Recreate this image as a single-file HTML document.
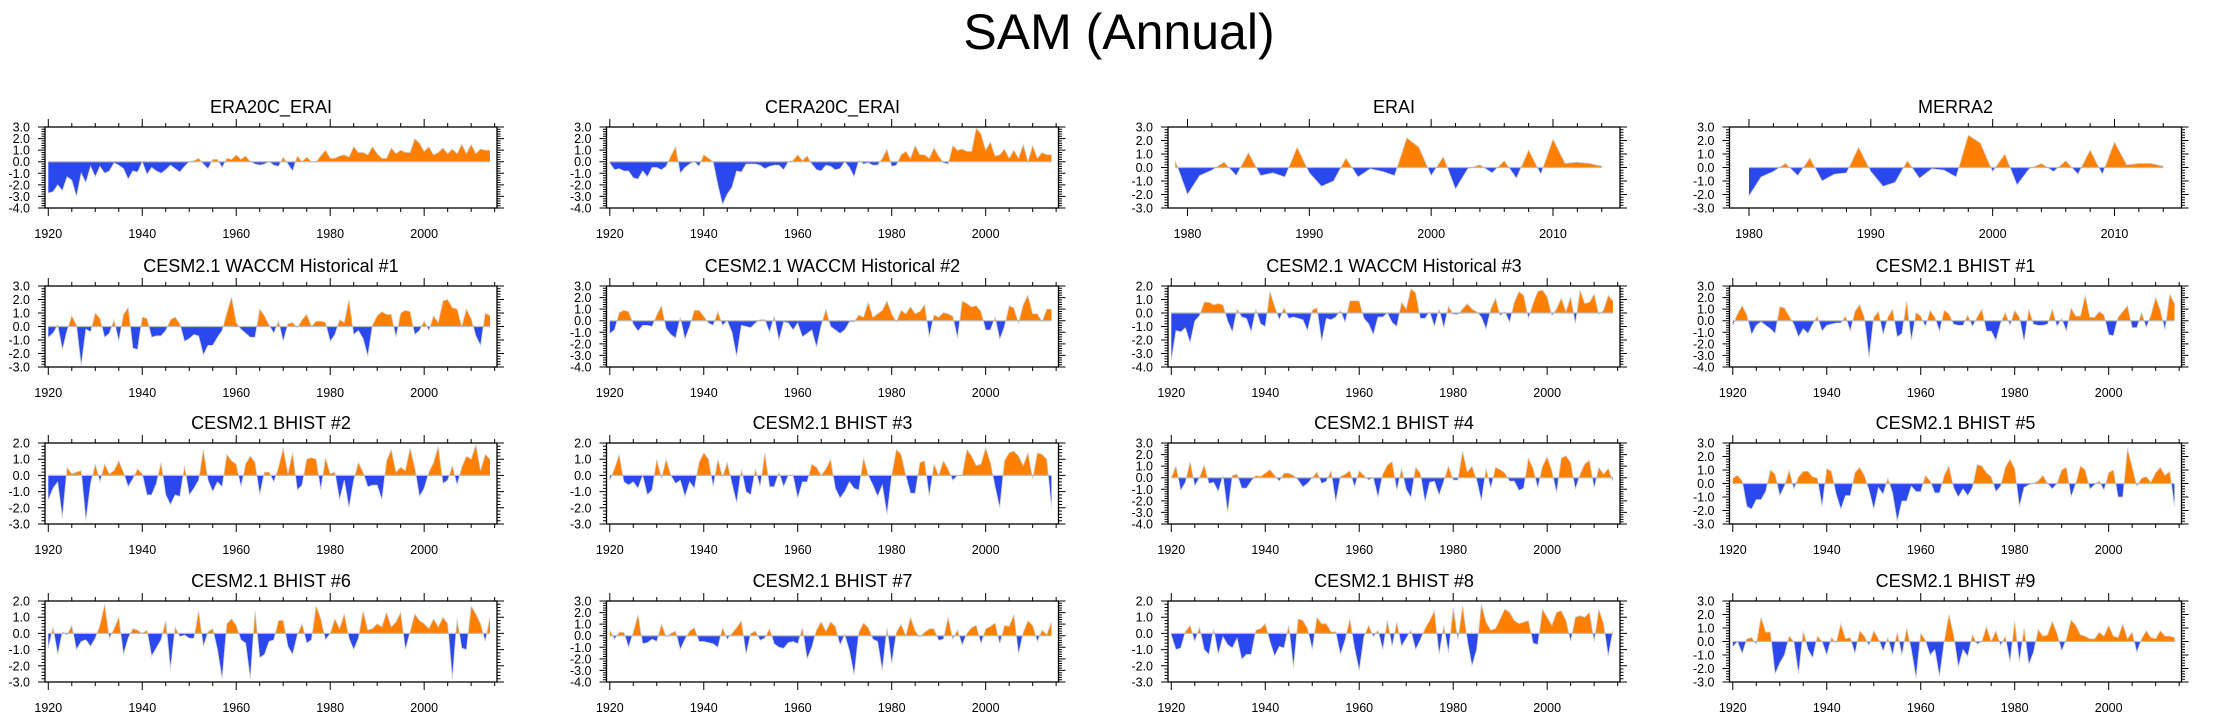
<!DOCTYPE html>
<html><head><meta charset="utf-8"><style>
html,body{margin:0;padding:0;background:#fff;}
svg{display:block;font-family:"Liberation Sans",sans-serif;}
</style></head><body>
<svg id="chart" width="2238" height="719" viewBox="0 0 2238 719" xmlns="http://www.w3.org/2000/svg">
<text x="1119" y="49" text-anchor="middle" font-size="50" fill="#000">SAM (Annual)</text>
</svg>
<script>
const yearsFull = []; for (let y = 1920; y <= 2014; y++) yearsFull.push(y);
const yearsERAI = []; for (let y = 1979; y <= 2014; y++) yearsERAI.push(y);
const yearsMERRA = []; for (let y = 1980; y <= 2014; y++) yearsMERRA.push(y);
const panelTitles = ["ERA20C_ERAI","CERA20C_ERAI","ERAI","MERRA2",
 "CESM2.1 WACCM Historical #1","CESM2.1 WACCM Historical #2","CESM2.1 WACCM Historical #3","CESM2.1 BHIST #1",
 "CESM2.1 BHIST #2","CESM2.1 BHIST #3","CESM2.1 BHIST #4","CESM2.1 BHIST #5",
 "CESM2.1 BHIST #6","CESM2.1 BHIST #7","CESM2.1 BHIST #8","CESM2.1 BHIST #9"];
const yMins = [-4,-4,-3,-3, -3,-4,-4,-4, -3,-3,-4,-3, -3,-4,-3,-3];
const yMaxs = [3,3,3,3, 3,3,2,3, 2,2,3,3, 2,3,2,3];
const xTickLabelsFull = [1920,1940,1960,1980,2000];
const xTickLabelsShort = [1980,1990,2000,2010];
const sERA20C = [-2.7,-2.6,-2.0,-2.5,-1.3,-1.6,-3.0,-1.0,-1.8,-0.4,
-1.3,-0.4,-1.0,-0.8,-0.1,-0.3,-0.6,-1.5,-0.8,-0.9,
0.0,-1.1,-0.5,-0.8,-1.0,-0.7,-0.3,-0.6,-0.9,-0.4,
0.0,0.1,0.3,-0.2,-0.6,0.2,0.2,-0.5,0.3,0.2,
0.6,0.2,0.5,0.0,-0.2,-0.3,-0.2,0.0,-0.3,-0.4,
0.4,-0.2,-0.8,0.5,0.0,0.4,0.0,0.0,0.5,1.0,
0.3,0.3,0.5,0.6,0.4,1.3,0.8,0.8,0.6,1.3,
0.7,0.3,0.3,1.2,0.7,1.0,0.8,0.8,2.0,1.6,
0.9,1.3,0.6,0.8,1.2,0.7,1.1,0.7,1.5,0.7,
1.5,0.7,1.1,1.0,1.0];
const sCERA20C = [-0.1,-0.7,-0.6,-0.8,-0.8,-1.4,-1.5,-0.8,-1.3,-0.5,
-0.5,-0.7,-0.4,0.5,1.3,-1.0,-0.5,-0.2,0.0,-0.4,
0.6,0.3,0.0,-2.0,-3.7,-2.8,-2.2,-0.8,-0.9,-0.2,
-0.2,-0.2,-0.3,-0.6,-0.4,-0.3,-0.3,-0.7,0.0,0.1,
0.6,0.1,0.5,-0.2,-0.7,-0.8,-0.3,-0.4,-0.7,-0.6,
0.0,-0.5,-1.3,0.1,-0.2,-0.1,-0.3,-0.3,0.3,1.1,
-0.4,-0.3,0.6,0.9,0.3,1.4,0.6,0.6,0.3,1.2,
0.5,-0.1,-0.2,1.4,1.0,1.1,0.9,0.9,2.9,2.4,
1.0,1.7,0.5,0.6,1.1,0.3,1.0,0.3,1.5,0.0,
1.4,0.3,0.8,0.6,0.6];
const sERAI = [0.5,-2.0,-0.6,-0.2,0.4,-0.6,1.1,-0.6,-0.4,-0.7,1.5,-0.4,-1.4,-1.0,0.7,-0.7,-0.1,-0.3,-0.6,2.2,1.5,-0.6,0.8,-1.6,-0.1,0.2,-0.4,0.5,-0.8,1.3,-0.5,2.1,0.3,0.4,0.3,0.1];
const sMERRA2 = [-2.1,-0.7,-0.3,0.3,-0.6,0.7,-1.0,-0.5,-0.4,1.5,-0.3,-1.4,-1.1,0.5,-0.8,-0.1,-0.2,-0.7,2.4,1.8,-0.3,1.0,-1.3,-0.1,0.3,-0.3,0.5,-0.5,1.3,-0.5,1.9,0.2,0.3,0.3,0.1];
const sWACCM1 = [-0.8,-0.5,0.1,-1.7,-0.3,0.8,0.1,-2.9,-0.2,-0.4,
1.0,0.6,-0.8,-0.5,0.5,-1.1,0.9,1.4,-1.6,-1.7,
0.7,0.6,-0.8,-0.7,-0.7,-0.3,0.5,0.7,0.2,-1.1,
-0.9,-0.6,-0.7,-2.1,-1.4,-1.4,-0.8,-0.3,1.0,2.2,
0.3,-0.2,-0.5,-0.8,-0.8,1.3,0.8,0.1,-0.5,0.4,
-1.1,0.2,0.3,-0.1,0.5,0.9,0.0,0.4,0.4,0.3,
-1.1,-0.6,0.5,0.3,2.0,-0.6,-0.3,-0.9,-2.2,0.1,
0.8,1.1,0.9,0.9,-0.8,1.0,1.2,1.1,-0.6,-0.3,
0.4,-0.3,0.8,0.3,1.9,2.0,1.4,1.3,0.0,1.3,
0.6,-0.7,-1.4,1.0,0.8];
const sWACCM2 = [-1.1,-0.8,0.7,0.9,0.8,-0.3,-0.9,-0.4,-0.4,-0.5,
0.5,1.3,-0.7,-1.2,-1.5,0.3,-1.6,-0.5,0.9,0.9,
0.4,-0.2,-0.4,0.8,-0.4,0.0,-1.0,-3.1,-0.4,-0.5,
-0.6,-0.2,0.1,0.1,-1.0,0.4,-1.7,-0.1,-0.2,-0.8,
-0.2,-1.4,-1.1,-0.8,-2.3,-0.4,1.0,-0.5,-0.8,-1.1,
-0.8,-0.1,-0.1,0.5,0.3,1.6,0.3,0.6,0.9,1.7,
0.6,-0.1,0.9,0.6,1.2,0.6,0.8,1.4,-1.4,0.5,
0.3,0.7,0.6,0.4,-1.5,1.7,1.5,1.2,1.3,0.8,
-0.8,-0.8,0.3,-1.6,-0.5,1.3,1.1,-0.2,1.4,2.2,
0.6,0.6,-0.1,1.0,1.0];
const sWACCM3 = [-3.5,-1.3,-1.4,-1.1,-2.2,-0.6,-0.2,0.8,0.8,0.6,
0.7,0.6,-0.6,-1.4,0.3,-0.3,-0.4,-1.4,0.3,-0.8,
-1.0,1.6,0.5,-0.5,0.4,-0.4,-0.3,-0.4,-0.5,-1.3,
0.2,0.4,-2.1,-0.4,-0.5,-0.3,0.2,-0.7,0.9,0.9,
0.9,-0.4,-0.8,-1.6,-0.3,-0.3,0.0,-0.7,-1.0,0.8,
0.3,1.8,1.5,-0.4,-0.4,0.1,-1.0,0.3,-1.1,0.5,
-0.1,-0.1,0.3,0.7,0.3,0.1,-0.3,-1.2,0.3,1.1,
-0.2,0.1,-0.7,0.8,1.6,1.3,-0.4,0.7,1.6,1.7,
1.2,-0.2,0.3,1.1,0.1,1.2,-0.8,1.7,0.7,0.8,
1.4,-0.1,0.2,1.3,0.9];
const sBHIST1 = [-0.4,0.6,1.3,0.5,-1.2,-0.4,-0.1,-0.4,-0.7,-1.1,
1.2,1.1,0.4,-0.3,-1.4,-0.7,-1.1,-0.3,0.4,-0.9,
-0.4,-0.3,-0.2,-0.2,0.4,-0.9,0.8,1.4,0.3,-3.2,
0.3,0.8,-1.2,0.3,1.0,-1.4,-1.1,1.7,-1.7,0.7,
0.4,-0.5,0.9,0.3,-0.9,0.9,0.6,-0.3,-0.4,-0.4,
0.5,-0.5,0.3,1.0,-0.9,-0.9,-1.7,-0.2,0.7,-0.4,
0.9,0.3,-1.8,1.0,-0.3,-0.4,-0.4,-0.3,1.0,-0.5,
0.2,-0.9,1.1,0.4,0.4,2.2,0.3,0.3,0.8,0.5,
-1.2,-1.3,0.3,0.8,1.3,-0.6,-0.6,0.7,-0.6,0.5,
2.0,0.9,-0.8,2.3,1.5];
const sBHIST2 = [-1.5,-0.8,-0.4,-2.6,0.5,0.1,0.2,0.3,-2.8,-0.5,
0.7,-0.4,0.7,0.1,0.3,0.9,0.2,-0.7,-0.2,0.4,
0.1,-1.2,-1.2,-0.5,0.8,-1.2,-1.8,-1.2,-1.3,0.6,
-1.2,-0.8,-0.3,1.6,-0.3,-1.0,-0.4,-0.7,1.3,0.9,
0.7,-0.7,0.7,1.2,0.8,-1.2,0.2,0.2,-0.4,0.5,
1.7,0.1,1.4,-0.9,-0.6,1.0,1.1,1.0,-0.9,1.1,
0.1,0.2,-1.5,-0.3,-2.0,-0.3,0.8,0.2,-0.7,-0.6,
-0.6,-1.5,0.9,1.6,0.2,0.5,0.3,1.7,0.5,-1.3,
-0.8,0.2,0.8,1.8,-0.5,-0.3,0.6,-0.6,0.5,1.2,
1.0,1.9,0.3,1.3,1.0];
const sBHIST3 = [-0.3,0.4,1.3,-0.4,-0.6,-0.4,-0.8,0.0,-1.2,-0.9,
1.0,-0.2,1.0,0.0,-0.5,-0.3,-1.3,-0.4,-0.8,0.8,
1.4,1.0,-0.7,1.0,-0.1,0.8,-0.5,-1.7,0.4,-1.0,
-1.2,0.4,-0.7,1.4,-0.7,-0.7,0.2,-0.7,0.0,0.0,
-1.4,-0.4,-0.4,0.7,0.5,0.0,0.4,1.0,-0.8,-1.4,
-1.0,-0.4,-0.8,-0.9,1.1,0.0,-0.6,-1.3,-0.6,-2.4,
0.0,1.6,1.3,0.0,-1.1,-1.1,0.8,0.9,-1.3,0.7,
0.0,0.9,0.4,-0.3,0.0,0.0,1.6,1.2,0.6,0.7,
1.7,0.8,-0.7,-2.0,0.9,1.4,1.5,1.2,0.6,1.4,
-0.2,1.4,1.3,1.0,-2.0];
const sBHIST4 = [0.0,1.0,-1.1,-0.4,1.4,-0.7,0.0,1.1,-0.5,-0.4,
-1.2,0.2,-3.0,0.2,0.3,-0.9,-0.9,-0.3,0.2,0.1,
0.4,0.7,0.2,-0.3,0.4,0.4,0.2,-0.2,-0.8,-0.5,
0.0,0.5,-0.5,-0.3,0.6,-2.1,0.1,0.3,0.6,-0.8,
0.6,0.2,-0.2,0.0,-1.7,0.3,1.1,1.4,-1.1,0.8,
-1.0,-1.7,0.9,0.4,-2.1,-0.4,-0.3,-1.5,-0.3,1.0,
-0.2,-0.2,2.3,0.5,1.0,-0.2,-2.0,0.8,-0.9,0.9,
0.7,0.4,-0.3,-0.3,-1.1,-0.9,1.7,0.8,-0.9,1.0,
1.8,0.6,-1.3,1.7,1.9,1.3,-1.0,0.3,1.2,1.5,
-0.9,0.9,0.3,0.8,-0.3];
const sBHIST5 = [0.4,0.6,0.2,-1.7,-1.9,-1.2,-1.2,-0.6,1.0,0.7,
-0.9,-0.2,1.0,-0.4,0.5,0.9,0.9,0.5,0.4,-1.7,
1.1,0.9,-0.8,-1.9,-0.9,-0.9,0.8,1.2,0.6,-0.5,
-1.9,-0.3,-0.8,0.4,-0.7,-2.8,-1.3,-1.3,-0.2,-0.6,
-0.6,0.6,0.2,-0.7,-0.7,0.6,1.3,-0.3,-1.0,-0.4,
-0.9,-0.3,1.4,1.3,0.8,0.5,-0.6,-0.2,1.2,1.8,
1.1,-1.7,-0.3,-0.1,0.0,0.2,0.6,0.0,-0.4,0.0,
1.0,1.2,-1.0,0.0,1.3,1.0,-0.4,-0.1,0.2,-0.5,
0.8,1.0,-1.0,-1.0,2.6,1.2,-0.2,0.4,0.5,0.1,
0.8,1.2,0.6,0.9,-1.7];
const sBHIST6 = [-0.9,0.4,-1.3,0.1,-0.1,0.5,-1.0,-0.5,-0.4,-0.8,
-0.3,0.5,1.8,-0.3,0.3,1.0,-1.3,-0.3,0.3,0.2,
0.0,0.2,-1.4,-0.9,-0.4,0.8,-2.2,0.4,-0.2,-0.1,
-0.3,-0.3,1.4,-0.8,0.1,0.3,-1.0,-2.8,0.6,0.9,
0.5,-0.4,-0.6,-2.8,1.4,-1.5,-1.3,-0.5,-0.4,0.8,
0.8,-0.8,-1.3,-0.1,0.6,-0.6,-0.4,1.7,0.9,-0.4,
0.0,0.9,0.3,1.2,-0.3,-1.0,-0.3,1.4,0.2,0.3,
0.6,0.4,1.3,0.4,0.7,1.3,-1.0,0.1,1.2,0.8,
0.6,0.3,0.9,0.4,1.0,0.6,-2.8,0.9,-0.9,-1.0,
1.7,1.2,0.6,-0.5,1.0];
const sBHIST7 = [0.5,-0.3,0.3,0.3,-1.0,0.3,1.8,-0.7,-0.6,-0.3,
-0.5,1.0,-0.1,0.2,0.4,-1.2,-0.3,0.4,0.7,-0.5,
-0.5,-0.6,-0.7,-1.0,0.7,-0.3,0.2,0.7,1.3,-1.6,
0.2,0.4,-0.4,-0.2,0.6,-0.7,-1.0,-1.1,-0.6,-0.5,
-0.7,0.7,-2.0,-1.0,0.5,1.2,0.4,1.2,0.8,-0.8,
0.1,-1.3,-3.4,0.3,1.1,0.7,-0.3,-0.5,-3.0,0.7,
-2.4,0.3,1.0,0.0,1.6,0.4,-0.1,0.3,0.6,0.6,
-0.4,-0.3,1.6,-0.3,0.5,-0.8,0.2,0.7,0.9,-0.7,
0.6,0.8,1.1,-0.7,0.9,0.8,1.8,-1.6,0.3,1.3,
0.9,-0.5,0.5,0.1,1.2];
const sBHIST8 = [-0.1,-1.0,-0.9,0.1,0.5,-0.5,0.4,-1.0,-1.3,0.3,
-1.3,-0.2,-0.7,-0.9,-0.3,-1.6,-1.3,-1.3,0.2,0.3,
0.6,-0.5,-1.4,-0.8,-0.9,0.5,-2.1,0.9,0.8,0.3,
-1.0,1.0,0.6,0.6,0.1,0.1,-1.3,-0.4,0.9,-0.9,
-2.3,-0.2,0.5,-0.2,0.2,-1.0,0.8,-0.8,0.7,-0.8,
-0.3,0.2,-1.0,-0.4,0.3,0.8,1.4,-1.3,0.5,-1.2,
1.6,-0.4,1.7,-0.4,-2.0,-1.0,1.8,0.7,0.2,0.3,
0.9,1.5,1.3,0.8,0.6,0.7,0.8,-0.6,-0.7,1.5,
1.0,0.5,1.3,1.4,0.8,-0.5,1.0,1.1,1.0,1.3,
-0.5,1.5,0.6,-1.4,0.2];
const sBHIST9 = [-0.4,0.0,-0.9,0.2,0.3,-0.2,1.8,0.7,0.7,-2.4,
-1.6,-1.0,0.4,0.0,-2.4,0.8,-0.6,-1.2,0.4,0.0,
-1.0,0.3,-0.1,1.3,0.2,0.3,-0.9,0.8,0.4,-0.3,
0.8,0.2,-0.7,0.3,-1.0,0.7,-1.0,1.0,-0.6,-2.7,
0.6,0.1,-1.0,-0.6,-2.6,0.0,2.0,0.5,-1.9,-0.6,
-1.1,0.5,-0.2,0.0,1.1,0.0,0.8,-0.3,0.4,-1.5,
1.5,-1.5,1.0,-1.7,-0.8,0.9,0.4,0.5,1.5,0.6,
-0.7,0.2,1.6,1.2,0.5,0.4,0.2,0.2,0.7,0.4,
1.2,0.4,0.3,1.3,0.2,0.7,-0.8,0.2,0.8,0.3,
0.2,0.8,0.4,0.4,0.3];

const NS = "http://www.w3.org/2000/svg";
const svg = document.getElementById('chart');
const colLeft = [45, 606.5, 1168, 1729.5];
const rowTop = [127, 286, 443, 601];
const PW = 452, PH = 81;
const ORANGE = "#ff8000", BLUE = "#2b47ee";

const seriesList = [sERA20C,sCERA20C,sERAI,sMERRA2,sWACCM1,sWACCM2,sWACCM3,sBHIST1,
 sBHIST2,sBHIST3,sBHIST4,sBHIST5,sBHIST6,sBHIST7,sBHIST8,sBHIST9];
const yearsList = seriesList.map((s,i)=> i===2 ? yearsERAI : (i===3 ? yearsMERRA : yearsFull));

function mk(tag, attrs, parent){
  const e = document.createElementNS(NS, tag);
  for (const k in attrs) e.setAttribute(k, attrs[k]);
  parent.appendChild(e);
  return e;
}
function slug(t){ return t.toLowerCase().replace(/[^a-z0-9]+/g,'-').replace(/^-|-$/g,''); }

for (let p = 0; p < 16; p++) {
  const r = Math.floor(p/4), c = p%4;
  const L = colLeft[c], T = rowTop[r];
  const short = (p===2 || p===3);
  const x0 = short ? 1978.4 : 1919.3, x1 = 2015.5;
  const ymin = yMins[p], ymax = yMaxs[p];
  const xs = v => L + (v - x0) / (x1 - x0) * PW;
  const ys = v => T + (ymax - v) / (ymax - ymin) * PH;
  const g = mk('g', {}, svg);
  
  

  const title = mk('text', {x: L + PW/2, y: T - 14, 'text-anchor':'middle', 'font-size':18, fill:'#000'}, g);
  title.textContent = panelTitles[p];
  
  

  const cid = 'c' + p;
  const defs = mk('defs', {}, g);
  const cpU = mk('clipPath', {id: cid+'u'}, defs);
  mk('rect', {x:L, y:T, width:PW, height: ys(0)-T}, cpU);
  const cpD = mk('clipPath', {id: cid+'d'}, defs);
  mk('rect', {x:L, y:ys(0), width:PW, height: T+PH-ys(0)}, cpD);

  const yrs = yearsList[p], vals = seriesList[p];
  let pts = xs(yrs[0]).toFixed(2) + ',' + ys(0).toFixed(2);
  let line = '';
  for (let i = 0; i < vals.length; i++) {
    const pt = xs(yrs[i]).toFixed(2) + ',' + ys(vals[i]).toFixed(2);
    pts += ' ' + pt; line += pt + ' ';
  }
  pts += ' ' + xs(yrs[yrs.length-1]).toFixed(2) + ',' + ys(0).toFixed(2);
  const pos = mk('polygon', {points: pts, fill: ORANGE, 'clip-path': 'url(#'+cid+'u)'}, g);
  
  
  const neg = mk('polygon', {points: pts, fill: BLUE, 'clip-path': 'url(#'+cid+'d)'}, g);
  
  
  const outl = mk('polyline', {points: line, fill:'none', stroke:'#d0d0d0', 'stroke-width':0.8}, g);
  
  
  const zl = mk('line', {x1:xs(yrs[0]), x2:xs(yrs[yrs.length-1]), y1:ys(0), y2:ys(0), stroke:'#bbbbbb', 'stroke-width':1.2}, g);
  
  

  const fr = mk('rect', {x:L, y:T, width:PW, height:PH, fill:'none', stroke:'#000', 'stroke-width':1.3}, g);
  
  

  const tk = [];
  const major = short ? 10 : 20, minor = short ? 2 : 5;
  const startY = short ? 1980 : 1920;
  for (let y = startY; y <= 2015; y += minor) {
    const isMaj = ((y - startY) % major) === 0;
    const len = isMaj ? 8 : 4;
    const X = xs(y).toFixed(2);
    tk.push(`M${X},${T}v${-len}M${X},${T+PH}v${len}`);
  }
  for (let v = ymin; v <= ymax + 1e-9; v += 0.2) {
    const vv = Math.round(v*10)/10;
    const isMaj = Math.abs(vv - Math.round(vv)) < 1e-6;
    const len = isMaj ? 7 : 3.5;
    const Y = ys(vv).toFixed(2);
    tk.push(`M${L},${Y}h${-len}M${L+PW},${Y}h${len}`);
  }
  const tp = mk('path', {d: tk.join(''), stroke:'#000', 'stroke-width':1, fill:'none'}, g);
  
  

  const xl = short ? xTickLabelsShort : xTickLabelsFull;
  for (const yv of xl) {
    const t = mk('text', {x: xs(yv), y: T + PH + 30, 'text-anchor':'middle', 'font-size':12.5, fill:'#000'}, g);
    t.textContent = yv;
    
    
  }
  for (let v = ymin; v <= ymax; v++) {
    const t = mk('text', {x: L - 15, y: ys(v) + 4.5, 'text-anchor':'end', 'font-size':12.5, fill:'#000'}, g);
    t.textContent = v.toFixed(1);
    
    
  }
}
</script>
</body></html>
